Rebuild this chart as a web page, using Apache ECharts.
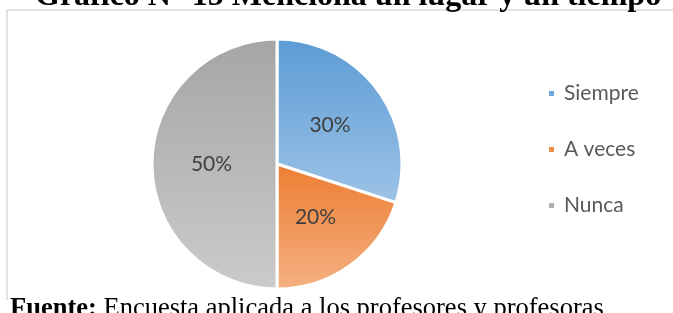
<!DOCTYPE html>
<html>
<head>
<meta charset="utf-8">
<script src="https://cdn.jsdelivr.net/npm/echarts@6/dist/echarts.min.js"></script>
<style>html,body{margin:0;padding:0;background:#fff;}#c{width:673px;height:313px;}</style>
</head>
<body>
<div id="c"></div>
<script>
const categories = ['Siempre', 'A veces', 'Nunca'];
const values = [30, 20, 50];
const titleText = 'Gráfico N° 15 Menciona un lugar y un tiempo';
const sourceLabel = 'Fuente:';
const sourceText = ' Encuesta aplicada a los profesores y profesoras';

const gradients = [
  ['#5b9bd5', '#9dc3e6'],
  ['#ed7d31', '#f4b183'],
  ['#a5a5a5', '#cbcbcb']
];
const legendColors = ['#6fa8dc', '#f08c4a', '#b0b0b0'];

const chart = echarts.init(document.getElementById('c'));
chart.setOption({
  animation: false,
  backgroundColor: '#fff',
  legend: {
    orient: 'vertical',
    left: 547,
    top: 83,
    padding: 0,
    itemWidth: 7,
    itemHeight: 7,
    itemGap: 35,
    icon: 'rect',
    textStyle: { fontFamily: 'Lato', fontSize: 21, lineHeight: 21, color: '#595959', padding: [0, 0, 0, 4] },
    data: categories.map((c, i) => ({ name: c, itemStyle: { color: legendColors[i] } }))
  },
  graphic: [
    {
      type: 'polyline',
      shape: { points: [[7, 300], [7, 10], [673, 10]] },
      style: { stroke: '#d9d9d9', lineWidth: 1.5, fill: null }
    },
    {
      type: 'text',
      x: 35, y: -3,
      style: {
        text: titleText,
        font: 'bold 32px "Liberation Serif"',
        fill: '#000',
        verticalAlign: 'middle'
      }
    },
    {
      type: 'text',
      x: 10, y: 309,
      style: {
        text: '{b|' + sourceLabel + '}{r|' + sourceText + '}',
        verticalAlign: 'middle',
        rich: {
          b: { fontFamily: 'Liberation Serif', fontWeight: 'bold', fontSize: 26.5, fill: '#000' },
          r: { fontFamily: 'Liberation Serif', fontSize: 26.5, fill: '#000' }
        }
      }
    }
  ],
  series: [{
    type: 'pie',
    center: [277, 164],
    radius: [0, 125],
    startAngle: 90,
    clockwise: true,
    label: {
      position: 'inside',
      formatter: '{d}%',
      fontFamily: 'Lato',
      fontSize: 21,
      color: '#404040',
      padding: [10, 0, 0, 0]
    },
    labelLine: { show: false },
    itemStyle: { borderColor: '#fff', borderWidth: 3 },
    data: categories.map((c, i) => ({
      name: c,
      value: values[i],
      itemStyle: {
        color: new echarts.graphic.LinearGradient(0, 0, 0, 1, [
          { offset: 0, color: gradients[i][0] },
          { offset: 1, color: gradients[i][1] }
        ])
      }
    }))
  }]
});
</script>
</body>
</html>
